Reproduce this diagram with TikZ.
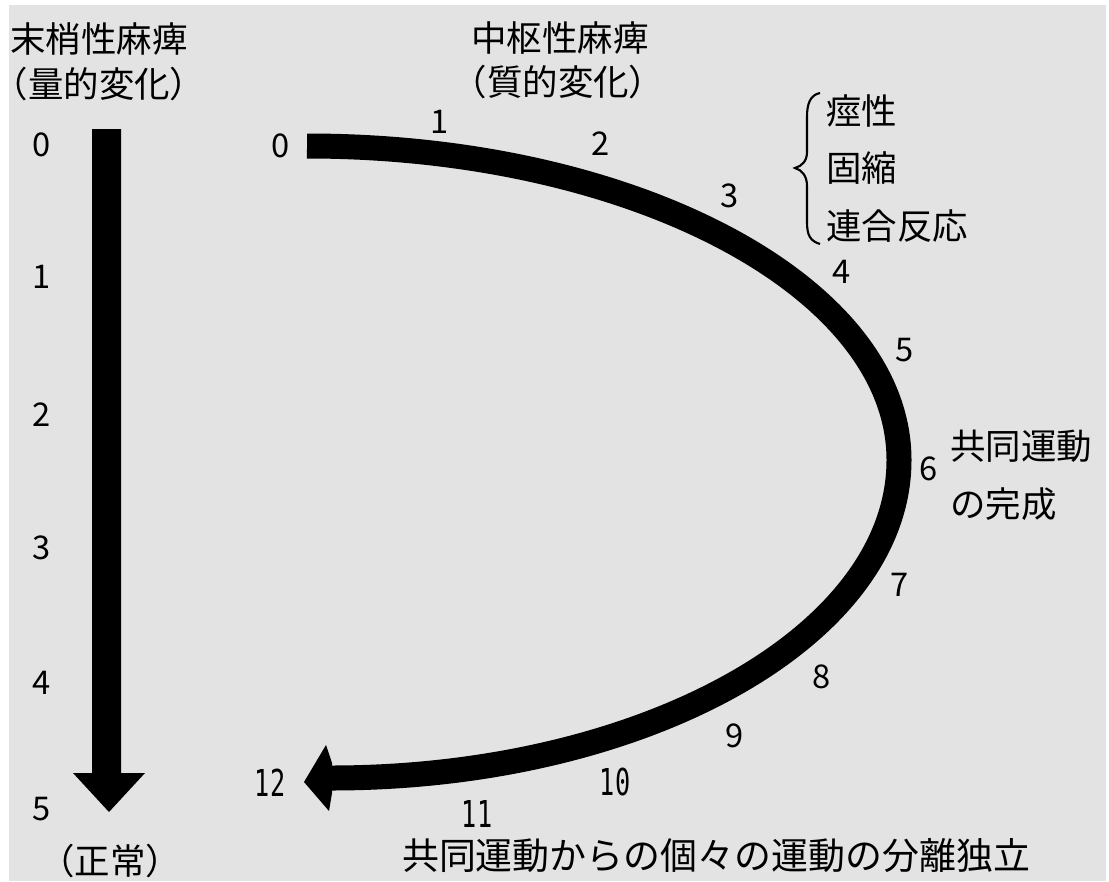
\documentclass[tikz,border=0pt]{standalone}
\usepackage{fontspec}
\usepackage{graphicx}
\setmainfont{Noto Sans CJK JP}
\newfontfamily\monofnt{DejaVu Sans Mono}
\definecolor{bg}{RGB}{227,227,227}
\begin{document}
\begin{tikzpicture}[x=0.75pt,y=-0.75pt,
  lbl/.style={inner sep=0pt, font=\fontsize{26.6pt}{30pt}\selectfont},
  blbl/.style={inner sep=0pt, font=\fontsize{27.7pt}{31pt}\selectfont},
  num/.style={inner sep=0pt, font=\fontsize{24.5pt}{28pt}\selectfont},
  nnum/.style={inner sep=0pt, font=\fontsize{27.8pt}{30pt}\monofnt}]
\useasboundingbox (0,0) rectangle (1109,881);
\fill[white] (0,0) rectangle (1109,881);
\fill[bg] (9,5) rectangle (1106,881);

% left straight arrow
\fill (92,129) -- (121,129) -- (121,773) -- (145,773) -- (109,812) -- (73,773) -- (92,773) -- cycle;

% curved arrow
\coordinate (c0) at (307,146);
\coordinate (c6) at (899,460);
\coordinate (c12) at (331,778);
\draw[line width=18.75pt] (c0) .. controls (634,146) and (899,287) .. (c6)
   .. controls (899,636) and (644,778) .. (c12);
\fill (332,763) -- (326,745) -- (304,782) -- (329,811) -- (332,793) -- cycle;

% brace
\draw[line width=1.6pt] (820,93) .. controls (810,95) and (807,104) .. (807,117) -- (807,152)
  .. controls (807,161) and (802,166) .. (795,168)
  .. controls (802,170) and (807,176) .. (807,186) -- (807,222)
  .. controls (807,235) and (810,241) .. (820,244);

% titles
\node[lbl] (t1a) at (99,39) {末梢性麻痺};
\node[lbl] (t1b) at (99,84) {\kern-0.45em（量的変化）\kern-0.45em};
\node[lbl] (t2a) at (560,38) {中枢性麻痺};
\node[lbl] (t2b) at (558,82) {\kern-0.45em（質的変化）\kern-0.45em};
\node[lbl] (norm) at (110,861) {\kern-0.45em（正常）\kern-0.45em};

% left numbers
\node[num] (l0) at (42,145) {0};
\node[num] (l1) at (42,277) {1};
\node[num] (l2) at (42,415) {2};
\node[num] (l3) at (42,548) {3};
\node[num] (l4) at (42,683) {4};
\node[num] (l5) at (42,809) {5};

% curve numbers
\node[num] (n0) at (281,146) {0};
\node[num] (n1) at (440,122) {1};
\node[num] (n2) at (601,144) {2};
\node[num] (n3) at (730,196) {3};
\node[num] (n4) at (842,272) {4};
\node[num] (n5) at (905,350) {5};
\node[num] (n6) at (929,469) {6};
\node[num] (n7) at (900,585) {7};
\node[num] (n8) at (822,677) {8};
\node[num] (n9) at (735,736) {9};
\node[nnum] (n10) at (615,782) {\scalebox{0.68}[1]{10}};
\node[nnum] (n11) at (477,814) {\scalebox{0.68}[1]{11}};
\node[nnum] (n12) at (270,783) {\scalebox{0.68}[1]{12}};

% side labels
\node[lbl,anchor=west] (s1) at (826,111) {痙性};
\node[lbl,anchor=west] (s2) at (826,168) {固縮};
\node[lbl,anchor=west] (s3) at (826,226) {連合反応};
\node[lbl,anchor=west] (k1) at (950,446) {共同運動};
\node[lbl,anchor=west] (k2) at (950,504) {の完成};

\node[blbl] (bot) at (716,856) {共同運動からの個々の運動の分離独立};
\end{tikzpicture}
\end{document}
